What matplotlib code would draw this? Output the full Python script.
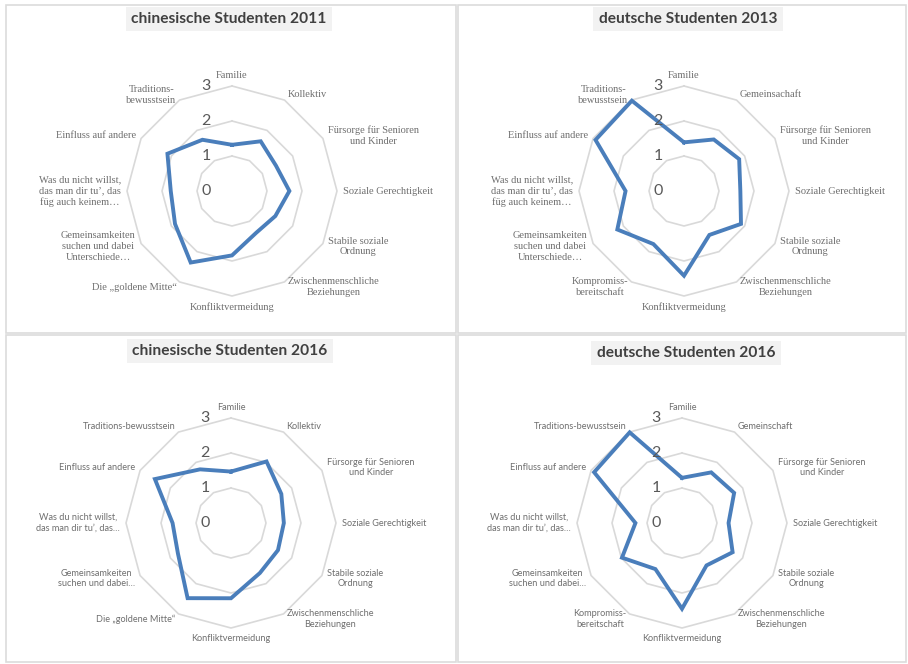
import numpy as np
import matplotlib
matplotlib.use("Agg")
import matplotlib.pyplot as plt
from matplotlib.patches import Rectangle

# ---------------- data ----------------
titles = ["chinesische Studenten 2011", "deutsche Studenten 2013",
          "chinesische Studenten 2016", "deutsche Studenten 2016"]

cats_cn2011 = ["Familie", "Kollektiv", "Fürsorge für Senioren\nund Kinder",
               "Soziale Gerechtigkeit", "Stabile soziale\nOrdnung",
               "Zwischenmenschliche\nBeziehungen", "Konfliktvermeidung",
               "Die „goldene Mitte“", "Gemeinsamkeiten\nsuchen und dabei\nUnterschiede…",
               "Was du nicht willst,\ndas man dir tu’, das\nfüg auch keinem…",
               "Einfluss auf andere", "Traditions-\nbewusstsein"]
cats_de2013 = ["Familie", "Gemeinsachaft", "Fürsorge für Senioren\nund Kinder",
               "Soziale Gerechtigkeit", "Stabile soziale\nOrdnung",
               "Zwischenmenschliche\nBeziehungen", "Konfliktvermeidung",
               "Kompromiss-\nbereitschaft", "Gemeinsamkeiten\nsuchen und dabei\nUnterschiede…",
               "Was du nicht willst,\ndas man dir tu’, das\nfüg auch keinem…",
               "Einfluss auf andere", "Traditions-\nbewusstsein"]
cats_cn2016 = ["Familie", "Kollektiv", "Fürsorge für Senioren\nund Kinder",
               "Soziale Gerechtigkeit", "Stabile soziale\nOrdnung",
               "Zwischenmenschliche\nBeziehungen", "Konfliktvermeidung",
               "Die „goldene Mitte“", "Gemeinsamkeiten\nsuchen und dabei…",
               "Was du nicht willst,\ndas man dir tu’, das…",
               "Einfluss auf andere", "Traditions-bewusstsein"]
cats_de2016 = ["Familie", "Gemeinschaft", "Fürsorge für Senioren\nund Kinder",
               "Soziale Gerechtigkeit", "Stabile soziale\nOrdnung",
               "Zwischenmenschliche\nBeziehungen", "Konfliktvermeidung",
               "Kompromiss-\nbereitschaft", "Gemeinsamkeiten\nsuchen und dabei…",
               "Was du nicht willst,\ndas man dir tu’, das…",
               "Einfluss auf andere", "Traditions-bewusstsein"]

vals_cn2011 = [1.32, 1.64, 1.45, 1.64, 1.43, 1.38, 1.84, 2.36, 1.88, 1.75, 2.13, 1.69]
vals_de2013 = [1.39, 1.70, 1.82, 1.61, 1.88, 1.45, 2.42, 1.75, 2.20, 1.67, 2.92, 2.98]
vals_cn2016 = [1.47, 2.03, 1.66, 1.51, 1.55, 1.65, 2.15, 2.48, 1.75, 1.67, 2.51, 1.77]
vals_de2016 = [1.29, 1.67, 1.72, 1.33, 1.67, 1.40, 2.45, 1.52, 1.98, 1.33, 2.90, 2.99]

rticks = [0, 1, 2, 3]

# ---------------- layout ----------------
W, H = 908, 664
fig = plt.figure(figsize=(W / 100, H / 100), dpi=100)
fig.patch.set_facecolor("white")

panels = [
    dict(box=(6, 5, 450, 328), center=(232, 191), title=(229, 19),
         cats=cats_cn2011, vals=vals_cn2011, font="Liberation Serif", fs=7.5),
    dict(box=(458, 5, 448, 328), center=(684, 191), title=(688, 19),
         cats=cats_de2013, vals=vals_de2013, font="Liberation Serif", fs=7.5),
    dict(box=(6, 335, 450, 327), center=(231, 523), title=(230, 351),
         cats=cats_cn2016, vals=vals_cn2016, font="Lato", fs=6.6),
    dict(box=(458, 335, 448, 327), center=(682, 523), title=(686, 353),
         cats=cats_de2016, vals=vals_de2016, font="Lato", fs=6.6),
]

R = 105  # pixel radius of value 3
grid_col = "#d9d9d9"
line_col = "#4a7ebb"
text_col = "#6e6e6e"

for p, ttl in zip(panels, titles):
    x0, y0, bw, bh = p["box"]
    fig.patches.append(Rectangle((x0 / W, 1 - (y0 + bh) / H), bw / W, bh / H,
                                 transform=fig.transFigure, fill=False,
                                 ec="#dcdcdc", lw=1.2))
    tx, ty = p["title"]
    fig.text(tx / W, 1 - ty / H, ttl, ha="center", va="center",
             fontsize=11.2, fontweight="bold", family="Lato", color="#404040",
             bbox=dict(boxstyle="square,pad=0.35", fc="#f2f2f2", ec="none"))

    cx, cy = p["center"]
    ax = fig.add_axes([(cx - R) / W, 1 - (cy + R) / H, 2 * R / W, 2 * R / H],
                      projection="polar")
    ax.set_theta_zero_location("N")
    ax.set_theta_direction(-1)
    ax.set_ylim(0, 3)
    ax.grid(False)
    ax.set_xticks([])
    ax.set_yticks([])
    ax.spines["polar"].set_visible(False)
    ax.patch.set_alpha(0)

    n = len(p["cats"])
    theta = np.arange(n) * 2 * np.pi / n
    tclosed = np.append(theta, theta[0])
    for r in rticks[1:]:
        ax.plot(tclosed, np.full(n + 1, r), color=grid_col, lw=1.2, zorder=1,
                clip_on=False)
    v = np.array(p["vals"])
    ax.plot(tclosed, np.append(v, v[0]), color=line_col, lw=2.8, zorder=3,
            clip_on=False, solid_joinstyle="miter")

    for r in rticks:
        ax.annotate(str(r), xy=(0, r), xytext=(-26, 0), textcoords="offset pixels",
                    ha="center", va="center", fontsize=11.5, family="Lato",
                    color="#595959", annotation_clip=False)

    for th, lab in zip(theta, p["cats"]):
        s, c = np.sin(th), np.cos(th)
        if abs(s) < 0.1:
            ha = "center"
            va = "bottom" if c > 0 else "top"
        else:
            ha = "left" if s > 0 else "right"
            va = "center"
        off = 6
        ax.annotate(lab, xy=(th, 3), xytext=(off * s, off * c),
                    textcoords="offset pixels", ha=ha, va=va,
                    multialignment="center", fontsize=p["fs"],
                    family=p["font"], color=text_col, annotation_clip=False,
                    linespacing=1.25)

fig.savefig("out.png", dpi=100)
